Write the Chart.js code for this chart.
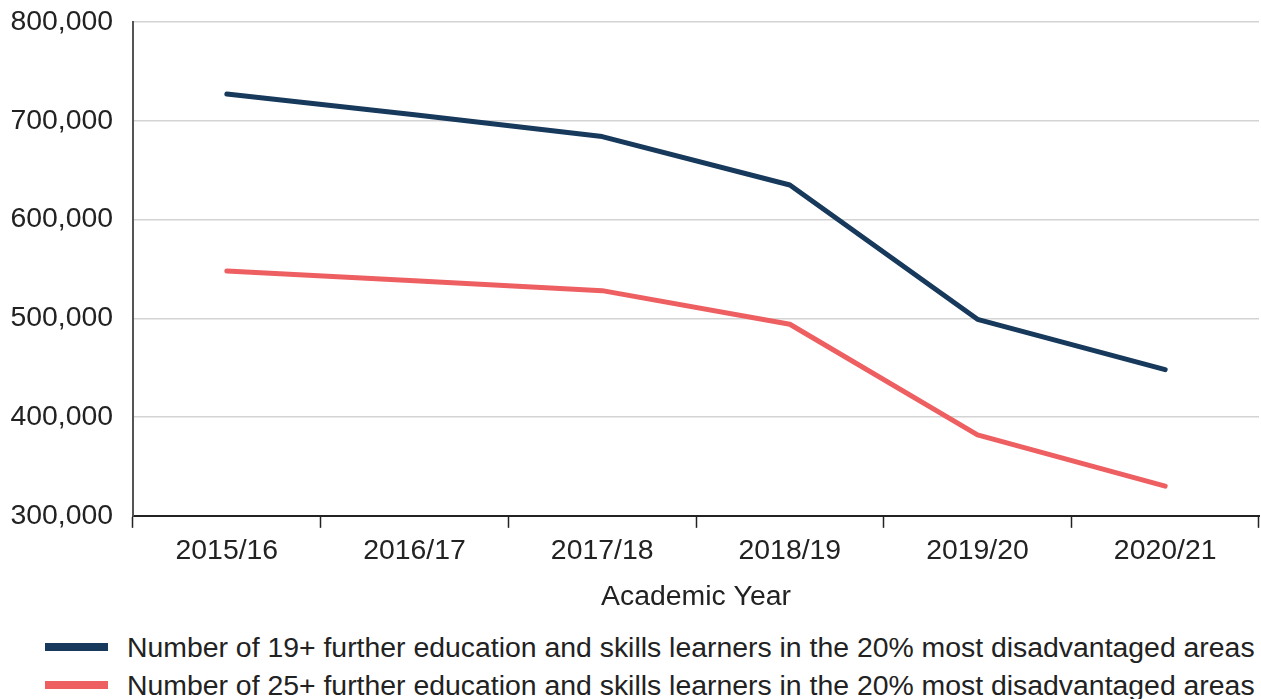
<!DOCTYPE html>
<html lang="en">
<head>
<meta charset="utf-8">
<title>Further education and skills learners in the most disadvantaged areas</title>
<script src="https://cdn.jsdelivr.net/npm/chart.js@4/dist/chart.umd.min.js"></script>
<style>
  html, body {
    margin: 0;
    padding: 0;
    background: #ffffff;
    font-family: 'Liberation Sans', Arial, sans-serif;
    color: #222222;
  }
  #chartWrap {
    position: relative;
    width: 1261px;
    height: 614px;
  }
  #learnersLegend {
    position: absolute;
    left: 45px;
    top: 628px;
    margin: 0;
    padding: 0;
    list-style: none;
    font-size: 28.4px;
  }
  #learnersLegend li {
    display: flex;
    align-items: center;
    height: 38px;
    white-space: nowrap;
  }
  #learnersLegend .swatch {
    display: inline-block;
    width: 63px;
    height: 8px;
    margin-right: 19px;
  }
</style>
</head>
<body>
<div id="chartWrap">
  <canvas id="learnersChart"></canvas>
</div>
<ul id="learnersLegend"></ul>

<script>
  // Academic years along the x axis
  const academicYears = ['2015/16', '2016/17', '2017/18', '2018/19', '2019/20', '2020/21'];

  // Learner counts per year
  const learners19Plus = [727000, 706000, 684000, 635000, 499000, 448000];
  const learners25Plus = [548000, 538000, 528000, 494000, 382000, 330000];

  const seriesLabels = [
    'Number of 19+ further education and skills learners in the 20% most disadvantaged areas',
    'Number of 25+ further education and skills learners in the 20% most disadvantaged areas'
  ];

  const NAVY = '#17395b';
  const CORAL = '#ee5f62';
  const TEXT = '#222222';
  const FONT = { family: "'Liberation Sans', Arial, sans-serif", size: 28.4 };

  const makeLine = (label, data, colour) => ({
    label,
    data,
    borderColor: colour,
    backgroundColor: colour,
    borderWidth: 5,
    borderCapStyle: 'round',
    borderJoinStyle: 'round',
    tension: 0,
    pointRadius: 0,
    pointHoverRadius: 0,
    fill: false
  });

  const chart = new Chart(document.getElementById('learnersChart'), {
    type: 'line',
    data: {
      labels: academicYears,
      datasets: [
        makeLine(seriesLabels[0], learners19Plus, NAVY),
        makeLine(seriesLabels[1], learners25Plus, CORAL)
      ]
    },
    options: {
      responsive: true,
      maintainAspectRatio: false,
      animation: false,
      layout: { padding: { top: 0, right: 2, left: 10, bottom: 0 } },
      plugins: {
        legend: { display: false },
        tooltip: { enabled: false }
      },
      scales: {
        x: {
          offset: true,
          grid: {
            offset: true,
            drawOnChartArea: false,
            drawTicks: true,
            tickLength: 12,
            tickColor: '#222222',
            tickWidth: 1.5
          },
          border: { color: '#222222', width: 2 },
          ticks: {
            color: TEXT,
            font: FONT,
            padding: 6,
            maxRotation: 0
          },
          title: {
            display: true,
            text: 'Academic Year',
            color: TEXT,
            font: FONT,
            padding: { top: 6, bottom: 0 }
          }
        },
        y: {
          min: 300000,
          max: 800000,
          grid: {
            color: '#d3d3d3',
            lineWidth: 1.5,
            drawTicks: false
          },
          border: { color: '#555555', width: 2 },
          ticks: {
            stepSize: 100000,
            color: TEXT,
            font: FONT,
            padding: 20,
            callback: (value) => value.toLocaleString('en-GB')
          },
          // fixed gutter for the tick labels and room above the top tick
          afterFit: (scale) => {
            scale.width = 123;
            scale.paddingTop = 22;
          }
        }
      }
    }
  });

  // Legend rows built from the datasets so colours and labels stay in sync
  const legendEl = document.getElementById('learnersLegend');
  chart.data.datasets.forEach((ds) => {
    const item = document.createElement('li');
    const swatch = document.createElement('span');
    swatch.className = 'swatch';
    swatch.style.background = ds.borderColor;
    item.appendChild(swatch);
    item.appendChild(document.createTextNode(ds.label));
    legendEl.appendChild(item);
  });
</script>
</body>
</html>
